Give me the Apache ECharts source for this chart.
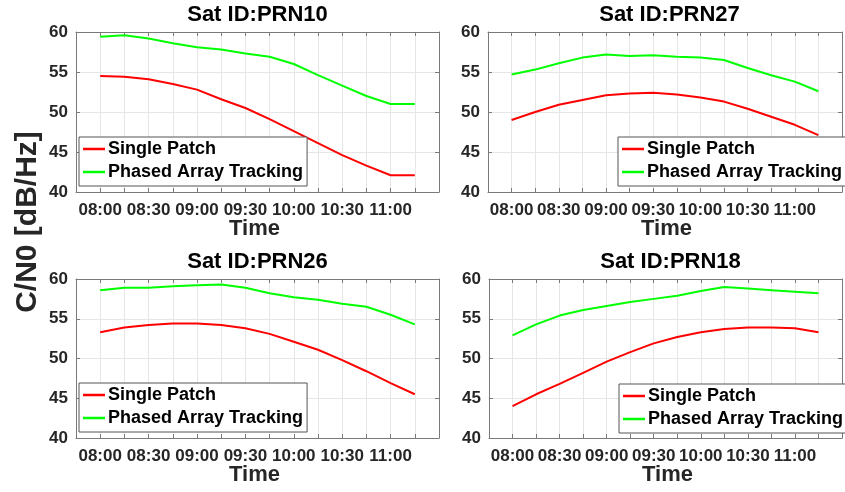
<!DOCTYPE html>
<html>
<head>
<meta charset="utf-8">
<script src="https://cdn.jsdelivr.net/npm/echarts@6/dist/echarts.min.js"></script>
<style>
  html, body { margin: 0; padding: 0; background: #fff; }
  #chart { width: 845px; height: 492px; }
</style>
</head>
<body>
<div id="chart"></div>
<script>
// Sample times, minutes after 08:00 (every 15 min up to 11:15)
const minutes = [0, 15, 30, 45, 60, 75, 90, 105, 120, 135, 150, 165, 180, 195];

// Labelled ticks on the time axis
const tickMinutes = [0, 30, 60, 90, 120, 150, 180];
const tickLabels = ['08:00', '08:30', '09:00', '09:30', '10:00', '10:30', '11:00'];

const satTitles = ['Sat ID:PRN10', 'Sat ID:PRN27', 'Sat ID:PRN26', 'Sat ID:PRN18'];
const seriesNames = ['Single Patch', 'Phased Array Tracking'];

// C/N0 [dB/Hz] per satellite
const prn10Single = [54.5, 54.4, 54.1, 53.5, 52.8, 51.6, 50.5, 49.1, 47.6, 46.1, 44.6, 43.3, 42.1, 42.1];
const prn10Phased = [59.4, 59.6, 59.2, 58.6, 58.1, 57.8, 57.3, 56.9, 56.0, 54.6, 53.3, 52.0, 51.0, 51.0];

const prn27Single = [49.0, 50.0, 50.9, 51.5, 52.1, 52.3, 52.4, 52.2, 51.8, 51.3, 50.4, 49.4, 48.4, 47.1];
const prn27Phased = [54.7, 55.3, 56.1, 56.8, 57.2, 57.0, 57.1, 56.9, 56.8, 56.5, 55.5, 54.6, 53.8, 52.6];

const prn26Single = [53.3, 53.9, 54.2, 54.4, 54.4, 54.2, 53.8, 53.1, 52.1, 51.1, 49.8, 48.4, 46.9, 45.5];
const prn26Phased = [58.6, 58.9, 58.9, 59.1, 59.2, 59.3, 58.9, 58.2, 57.7, 57.4, 56.9, 56.5, 55.5, 54.3];

const prn18Single = [44.0, 45.5, 46.8, 48.2, 49.6, 50.8, 51.9, 52.7, 53.3, 53.7, 53.9, 53.9, 53.8, 53.3];
const prn18Phased = [52.9, 54.3, 55.4, 56.1, 56.6, 57.1, 57.5, 57.9, 58.5, 59.0, 58.8, 58.6, 58.4, 58.2];

const panelSingle = [prn10Single, prn27Single, prn26Single, prn18Single];
const panelPhased = [prn10Phased, prn27Phased, prn26Phased, prn18Phased];

// Panel layout
const panels = [
  { left: 76,  top: 32,  width: 363, height: 160, legendLeft: 79,  legendTop: 137 },
  { left: 488, top: 32,  width: 363, height: 160, legendLeft: 618, legendTop: 137 },
  { left: 76,  top: 279, width: 363, height: 159, legendLeft: 79,  legendTop: 383 },
  { left: 489, top: 279, width: 363, height: 159, legendLeft: 619, legendTop: 384 }
];

const FONT = '"Liberation Sans", Arial, Helvetica, sans-serif';
const AXIS_COLOR = '#7a7a7a';
const GRID_COLOR = '#e6e6e6';
const LABEL_COLOR = '#262626';

const grid = [], xAxis = [], yAxis = [], series = [], legend = [], graphic = [];

panels.forEach((p, i) => {
  grid.push({ left: p.left, top: p.top, width: p.width, height: p.height, containLabel: false });

  const xBase = {
    gridIndex: i, type: 'value', min: -15, max: 210, interval: 15,
    axisLine: { show: true, onZero: false, lineStyle: { color: AXIS_COLOR, width: 1 } },
    axisTick: { show: true, inside: true, length: 4, lineStyle: { color: AXIS_COLOR } }
  };
  // bottom time axis with labels and vertical grid
  xAxis.push(Object.assign({}, xBase, {
    position: 'bottom',
    axisLabel: {
      show: true, margin: 10, fontSize: 17, fontWeight: 'bold', fontFamily: FONT, color: LABEL_COLOR,
      showMinLabel: true, showMaxLabel: true,
      formatter: v => { const k = tickMinutes.indexOf(v); return k >= 0 ? tickLabels[k] : ''; }
    },
    splitLine: { show: true, lineStyle: { color: GRID_COLOR, width: 1 } }
  }));
  // top box edge with ticks
  xAxis.push(Object.assign({}, xBase, {
    position: 'top',
    axisLabel: { show: false },
    splitLine: { show: false }
  }));

  const yBase = {
    gridIndex: i, type: 'value', min: 40, max: 60, interval: 5,
    axisLine: { show: true, onZero: false, lineStyle: { color: AXIS_COLOR, width: 1 } },
    axisTick: { show: true, inside: true, length: 4, lineStyle: { color: AXIS_COLOR } }
  };
  yAxis.push(Object.assign({}, yBase, {
    position: 'left',
    axisLabel: { show: true, margin: 8, fontSize: 17, fontWeight: 'bold', fontFamily: FONT, color: LABEL_COLOR },
    splitLine: { show: true, lineStyle: { color: GRID_COLOR, width: 1 } }
  }));
  yAxis.push(Object.assign({}, yBase, {
    position: 'right',
    axisLabel: { show: false },
    splitLine: { show: false }
  }));

  const xi = i * 2, yi = i * 2;
  series.push({
    name: seriesNames[0], type: 'line', xAxisIndex: xi, yAxisIndex: yi,
    data: minutes.map((m, k) => [m, panelSingle[i][k]]),
    symbol: 'none', lineStyle: { color: '#ff0000', width: 2 }, itemStyle: { color: '#ff0000' },
    z: 3, animation: false
  });
  series.push({
    name: seriesNames[1], type: 'line', xAxisIndex: xi, yAxisIndex: yi,
    data: minutes.map((m, k) => [m, panelPhased[i][k]]),
    symbol: 'none', lineStyle: { color: '#00ff00', width: 2 }, itemStyle: { color: '#00ff00' },
    z: 3, animation: false
  });

  legend.push({
    orient: 'vertical', left: p.legendLeft, top: p.legendTop,
    data: seriesNames.map(n => ({ name: n, icon: 'rect' })),
    itemWidth: 22, itemHeight: 2.5, itemGap: 3,
    padding: [2, 4, 4, 4],
    backgroundColor: '#ffffff', borderColor: '#555555', borderWidth: 1, borderRadius: 0,
    selectedMode: false, z: 10,
    textStyle: { fontSize: 18, fontWeight: 'bold', fontFamily: FONT, color: '#000', lineHeight: 20, padding: [0, 0, 0, -2] }
  });

  const cx = p.left + p.width / 2;
  graphic.push({
    type: 'text', x: cx, y: p.top - 17,
    style: { text: satTitles[i], fill: '#000', font: 'bold 22px ' + FONT, align: 'center', verticalAlign: 'middle' }
  });
  graphic.push({
    type: 'text', x: cx - 3, y: p.top + p.height + 37,
    style: { text: 'Time', fill: '#262626', font: 'bold 22px ' + FONT, align: 'center', verticalAlign: 'middle' }
  });
});

// shared vertical axis title
graphic.push({
  type: 'text', x: 28, y: 222, rotation: Math.PI / 2,
  style: { text: 'C/N0 [dB/Hz]', fill: '#262626', font: 'bold 30px ' + FONT, align: 'center', verticalAlign: 'middle' }
});

const chart = echarts.init(document.getElementById('chart'), null, { renderer: 'canvas' });
chart.setOption({
  backgroundColor: '#ffffff',
  animation: false,
  grid, xAxis, yAxis, series, legend, graphic
});
</script>
</body>
</html>
